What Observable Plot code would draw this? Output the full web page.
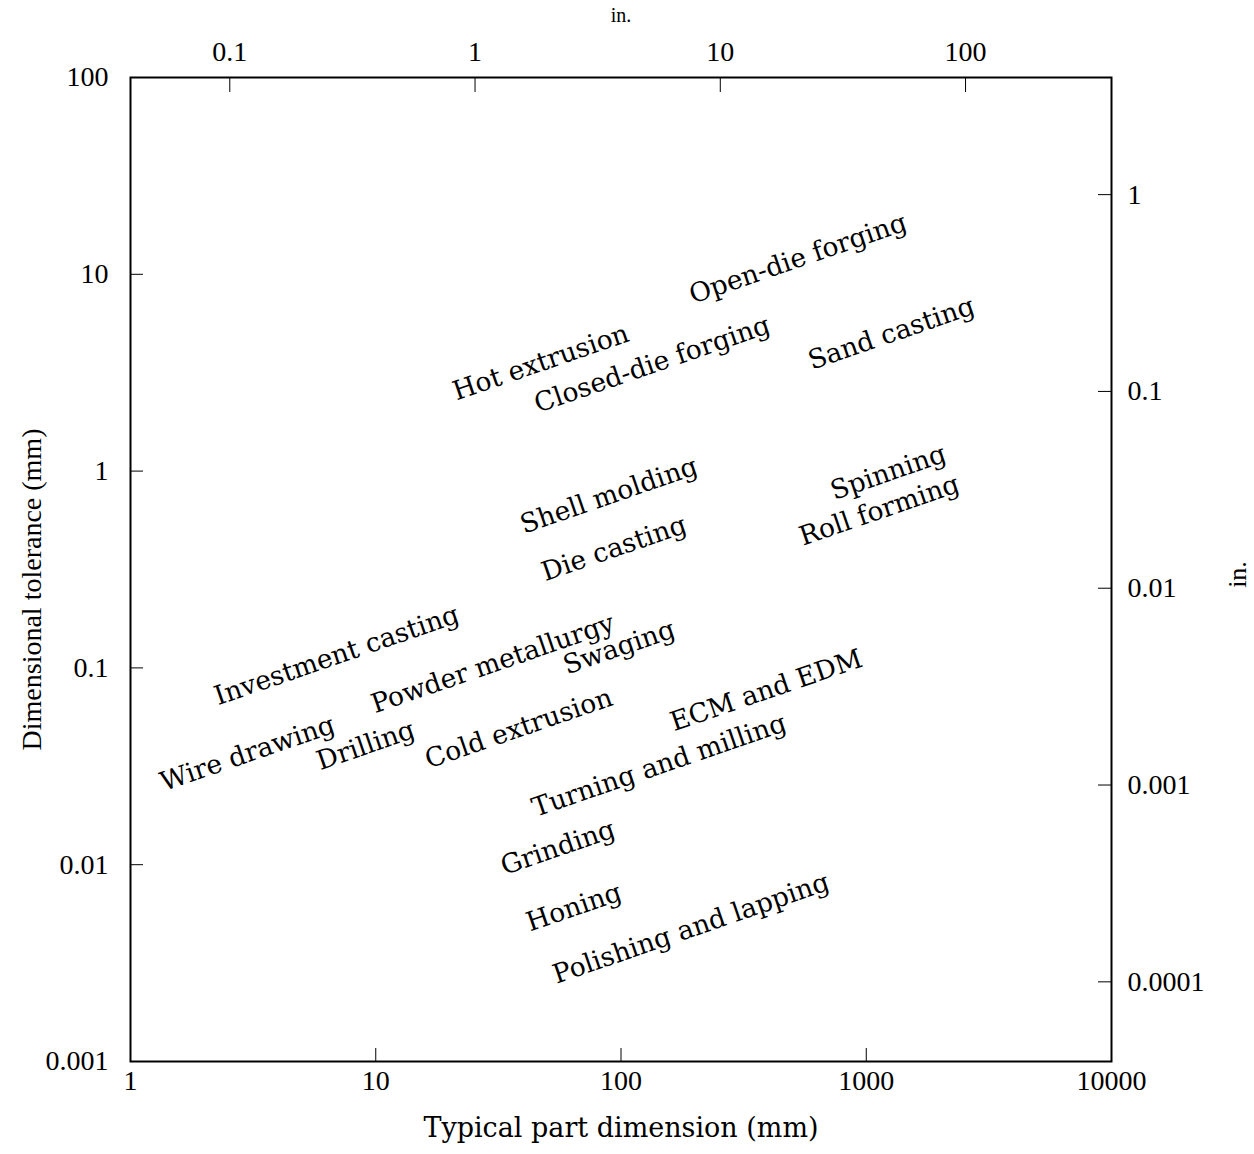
<!DOCTYPE html>
<html>
<head>
<meta charset="utf-8">
<script src="https://cdn.jsdelivr.net/npm/d3@7"></script>
<script src="https://cdn.jsdelivr.net/npm/@observablehq/plot@0.6"></script>
<style>
  html, body { margin: 0; padding: 0; background: #fff; }
  #chart svg { display: block; }
</style>
</head>
<body>
<div id="chart"></div>
<script>
// Process names and where their labels sit (typical part dimension mm, dimensional tolerance mm)
const processes = [
  "Open-die forging", "Hot extrusion", "Closed-die forging", "Sand casting",
  "Shell molding", "Spinning", "Roll forming", "Die casting",
  "Investment casting", "Powder metallurgy", "Swaging",
  "Wire drawing", "Drilling", "Cold extrusion", "ECM and EDM",
  "Turning and milling", "Grinding", "Honing", "Polishing and lapping"
];
const partDimensionMm = [
  527, 47.1, 134, 1265,
  89.3, 1230, 1130, 93.6,
  6.93, 30.0, 98.2,
  3.0, 9.1, 38.3, 391,
  143, 55.3, 64.3, 193
];
const toleranceMm = [
  12.0, 3.56, 3.48, 5.0,
  0.751, 0.984, 0.631, 0.404,
  0.1156, 0.105, 0.127,
  0.0367, 0.0403, 0.0492, 0.0767,
  0.0319, 0.0122, 0.00606, 0.00474
];

// Axis ticks
const xTickValues = [1, 10, 100, 1000, 10000];
const xTickLabels = ["1", "10", "100", "1000", "10000"];
const yTickValues = [100, 10, 1, 0.1, 0.01, 0.001];
const yTickLabels = ["100", "10", "1", "0.1", "0.01", "0.001"];
const topInchTicks = [0.1, 1, 10, 100];
const topInchLabels = ["0.1", "1", "10", "100"];
const rightInchTicks = [1, 0.1, 0.01, 0.001, 0.0001];
const rightInchLabels = ["1", "0.1", "0.01", "0.001", "0.0001"];
const MM_PER_INCH = 25.4;

const xTitle = "Typical part dimension (mm)";
const yTitle = "Dimensional tolerance (mm)";
const inchTitle = "in.";

const topTickMm = topInchTicks.map(v => v * MM_PER_INCH);
const rightTickMm = rightInchTicks.map(v => v * MM_PER_INCH);

const labelData = processes.map((name, i) => ({name, x: partDimensionMm[i], y: toleranceMm[i]}));

const tickFont = "'Liberation Serif', 'Times New Roman', serif";
const labelFont = "'DejaVu Serif', serif";

const chart = Plot.plot({
  width: 1254,
  height: 1154,
  marginLeft: 130,
  marginRight: 143,
  marginTop: 77,
  marginBottom: 93,
  style: {background: "#fff", color: "#000", fontFamily: tickFont},
  x: {type: "log", domain: [1, 10000]},
  y: {type: "log", domain: [0.001, 100]},
  marks: [
    Plot.frame({stroke: "#000", strokeWidth: 2}),
    Plot.axisX(xTickValues, {
      anchor: "bottom", tickSize: -13, tickPadding: 22, fontSize: 28, fontFamily: tickFont,
      tickFormat: d => xTickLabels[xTickValues.indexOf(d)], label: null, stroke: "#000"
    }),
    Plot.axisY(yTickValues, {
      anchor: "left", tickSize: -13, tickPadding: 35, fontSize: 28, fontFamily: tickFont,
      tickFormat: d => yTickLabels[yTickValues.indexOf(d)], label: null, stroke: "#000"
    }),
    Plot.axisX(topTickMm, {
      anchor: "top", tickSize: -14, tickPadding: 31, fontSize: 28, fontFamily: tickFont,
      tickFormat: d => topInchLabels[topTickMm.indexOf(d)], label: null, stroke: "#000"
    }),
    Plot.axisY(rightTickMm, {
      anchor: "right", tickSize: -14, tickPadding: 30, fontSize: 28, fontFamily: tickFont,
      tickFormat: d => rightInchLabels[rightTickMm.indexOf(d)], label: null, stroke: "#000"
    }),
    Plot.text(labelData, {
      x: "x", y: "y", text: "name", rotate: -19,
      fontSize: 26.5, fontFamily: labelFont, fill: "#000", textAnchor: "middle"
    }),
    Plot.text([xTitle], {
      frameAnchor: "bottom", dy: 75, text: d => d, fontSize: 27, fontFamily: labelFont, fill: "#000",
      textAnchor: "middle"
    }),
    Plot.text([yTitle], {
      frameAnchor: "left", dx: -98, dy: 20, rotate: -90, text: d => d, fontSize: 28, fontFamily: tickFont, fill: "#000",
      textAnchor: "middle"
    }),
    Plot.text([inchTitle], {
      frameAnchor: "right", dx: 126, dy: 5, rotate: -90, text: d => d, fontSize: 26, fontFamily: tickFont, fill: "#000",
      textAnchor: "middle"
    }),
    Plot.text([inchTitle], {
      frameAnchor: "top", dy: -70, text: d => d, fontSize: 20, fontFamily: tickFont, fill: "#000",
      textAnchor: "middle"
    })
  ]
});
document.getElementById("chart").appendChild(chart);
</script>
</body>
</html>
